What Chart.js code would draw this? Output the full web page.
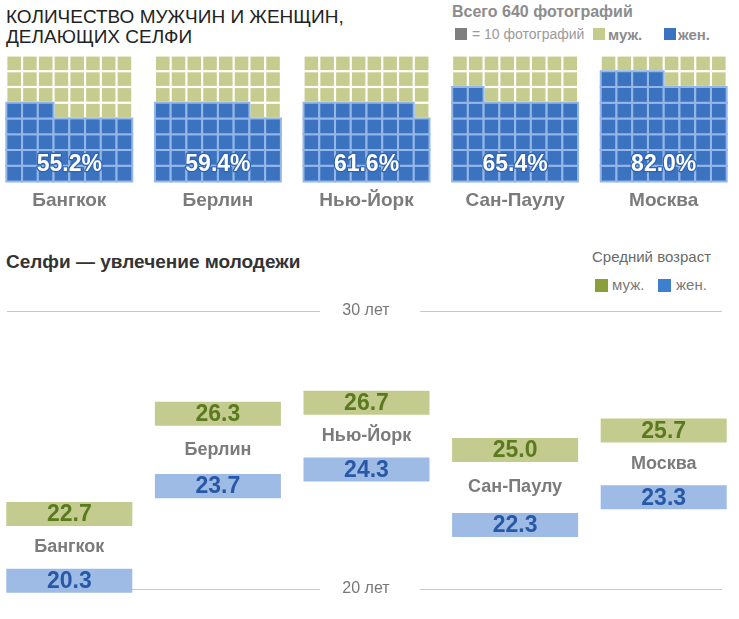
<!DOCTYPE html>
<html lang="ru">
<head>
<meta charset="utf-8">
<title>Селфи: мужчины и женщины</title>
<script src="https://cdn.jsdelivr.net/npm/chart.js"></script>
<style>
  body {
    margin: 0;
    width: 739px;
    height: 619px;
    overflow: hidden;
    position: relative;
    background: #fff;
    font-family: "Liberation Sans", Arial, sans-serif;
  }
  .abs { position: absolute; white-space: nowrap; }
  .sq { position: absolute; width: 12px; height: 12px; }
  #title { left: 6px; top: 7px; font-size: 19px; line-height: 20px; color: #222; }
  #total { left: 452px; top: 3px; font-size: 16px; font-weight: bold; color: #8c8c8c; }
  .leg1 { top: 26px; font-size: 14px; color: #9a9a9a; }
  .leg1 b { color: #8c8c8c; font-size: 15px; }
  #title2 { left: 6px; top: 251px; font-size: 19px; font-weight: bold; color: #333; }
  #avg { left: 592px; top: 248px; font-size: 15px; color: #6a6a6a; }
  .leg2 { top: 276px; font-size: 15px; color: #7a7a7a; }
  canvas { position: absolute; left: -5px; }
  #waffle { top: 50px; }
  #ages { top: 280px; }
</style>
</head>
<body>

<div id="title" class="abs">КОЛИЧЕСТВО МУЖЧИН И ЖЕНЩИН,<br>ДЕЛАЮЩИХ СЕЛФИ</div>
<div id="total" class="abs"></div>
<div class="sq" style="left:455px; top:28px; background:#7f7f7f;"></div>
<div id="perCell" class="abs leg1" style="left:472px;"></div>
<div class="sq" style="left:593px; top:28px; background:#c6cc8e;"></div>
<div class="abs leg1" style="left:608px;"><b>муж.</b></div>
<div class="sq" style="left:664px; top:28px; background:#3b73c1;"></div>
<div class="abs leg1" style="left:678px;"><b>жен.</b></div>

<div id="title2" class="abs">Селфи — увлечение молодежи</div>
<div id="avg" class="abs">Средний возраст</div>
<div class="sq" style="left:595px; top:279px; width:13px; height:13px; background:#8a9e3c;"></div>
<div class="abs leg2" style="left:612px;">муж.</div>
<div class="sq" style="left:658px; top:279px; width:13px; height:13px; background:#3f7fd0;"></div>
<div class="abs leg2" style="left:676px;">жен.</div>

<canvas id="waffle" width="743" height="170"></canvas>
<canvas id="ages" width="743" height="339"></canvas>

<script>
// данные
const cities = ['Бангкок', 'Берлин', 'Нью-Йорк', 'Сан-Паулу', 'Москва'];
const womenShare = [55.2, 59.4, 61.6, 65.4, 82.0];   // % женщин среди селфи
const menAge = [22.7, 26.3, 26.7, 25.0, 25.7];
const womenAge = [20.3, 23.7, 24.3, 22.3, 23.3];
const ageTicks = [20, 30];
const photosTotal = 640;
const photosPerCell = 10;

document.getElementById('total').textContent = `Всего ${photosTotal} фотографий`;
document.getElementById('perCell').textContent = `= ${photosPerCell} фотографий`;

const FONT = '"Liberation Sans", Arial, sans-serif';
const cols = 8;
const cellsPerCity = photosTotal / photosPerCell;
const cellX = 15.75 / 148.6;   // ширина клетки в единицах оси x

// клетки вафли: снизу вверх, слева направо
const womenCells = [];
const menCells = [];
cities.forEach((c, i) => {
  const nWomen = Math.round(womenShare[i] / 100 * cellsPerCity);
  for (let k = 0; k < cellsPerCity; k++) {
    const row = Math.floor(k / cols);
    const col = k % cols;
    const pt = {x: i + (col - 3.5) * cellX, y: row + 0.5};
    if (k < nWomen) womenCells.push(pt); else menCells.push(pt);
  }
});

const waffleLabels = {
  id: 'waffleLabels',
  afterDatasetsDraw(chart) {
    const {ctx, scales: {x, y}} = chart;
    ctx.save();
    ctx.textAlign = 'center';
    ctx.textBaseline = 'middle';
    cities.forEach((c, i) => {
      const px = x.getPixelForValue(i);
      ctx.font = `bold 23px ${FONT}`;
      ctx.lineWidth = 2.5;
      ctx.strokeStyle = '#2f63b0';
      ctx.lineJoin = 'round';
      const txt = womenShare[i].toFixed(1) + '%';
      ctx.strokeText(txt, px, y.getPixelForValue(1.1));
      ctx.fillStyle = '#fff';
      ctx.fillText(txt, px, y.getPixelForValue(1.1));
      ctx.font = `bold 19px ${FONT}`;
      ctx.fillStyle = '#7b7b7b';
      ctx.fillText(c, px, y.getPixelForValue(-1.25));
    });
    ctx.restore();
  }
};

new Chart(document.getElementById('waffle'), {
  type: 'scatter',
  data: {
    datasets: [
      {
        data: womenCells,
        pointStyle: 'rect',
        pointRadius: 11.1,
        backgroundColor: '#3b73c1',
        borderColor: '#94b7e6',
        borderWidth: 2,
        clip: false
      },
      {
        data: menCells,
        pointStyle: 'rect',
        pointRadius: 9.6,
        backgroundColor: '#c6cc8e',
        borderWidth: 0,
        clip: false
      }
    ]
  },
  options: {
    responsive: false,
    animation: false,
    events: [],
    layout: {padding: 0, autoPadding: false},
    plugins: {legend: {display: false}, tooltip: {enabled: false}},
    scales: {
      x: {type: 'linear', display: false, min: -0.5, max: 4.5},
      y: {type: 'linear', display: false, min: -2.444, max: 8.349}
    }
  },
  plugins: [waffleLabels]
});

// средний возраст
const barHalf = 0.432;

const ageLabels = {
  id: 'ageLabels',
  beforeDatasetsDraw(chart) {
    const {ctx, scales: {y}} = chart;
    ctx.save();
    ctx.strokeStyle = '#c9c9c9';
    ctx.lineWidth = 1;
    ctx.font = `16px ${FONT}`;
    ctx.fillStyle = '#777';
    ctx.textAlign = 'center';
    ctx.textBaseline = 'middle';
    ageTicks.forEach((t) => {
      const py = Math.round(y.getPixelForValue(t)) + 0.5;
      ctx.beginPath();
      ctx.moveTo(12, py); ctx.lineTo(325, py);
      ctx.moveTo(425, py); ctx.lineTo(727, py);
      ctx.stroke();
      ctx.fillText(`${t} лет`, 371, py - 1);
    });
    ctx.restore();
  },
  afterDatasetsDraw(chart) {
    const {ctx, scales: {x, y}} = chart;
    ctx.save();
    ctx.textAlign = 'center';
    ctx.textBaseline = 'middle';
    cities.forEach((c, i) => {
      const px = x.getPixelForValue(i);
      ctx.font = `bold 23px ${FONT}`;
      ctx.fillStyle = '#5b7a1f';
      ctx.fillText(menAge[i].toFixed(1), px, y.getPixelForValue(menAge[i]) + 1);
      ctx.fillStyle = '#2859a8';
      ctx.fillText(womenAge[i].toFixed(1), px, y.getPixelForValue(womenAge[i]) + 1);
      ctx.font = `bold 18px ${FONT}`;
      ctx.fillStyle = '#7b7b7b';
      ctx.fillText(c, px, y.getPixelForValue((menAge[i] + womenAge[i]) / 2));
    });
    ctx.restore();
  }
};

new Chart(document.getElementById('ages'), {
  type: 'bar',
  data: {
    labels: cities,
    datasets: [
      {
        label: 'муж.',
        data: menAge.map((v) => [v - barHalf, v + barHalf]),
        backgroundColor: '#c4cb8e'
      },
      {
        label: 'жен.',
        data: womenAge.map((v) => [v - barHalf, v + barHalf]),
        backgroundColor: '#9dbbe4'
      }
    ]
  },
  options: {
    responsive: false,
    animation: false,
    events: [],
    layout: {padding: 0, autoPadding: false},
    grouped: false,
    barPercentage: 0.848,
    categoryPercentage: 1,
    plugins: {legend: {display: false}, tooltip: {enabled: false}},
    scales: {
      x: {display: false},
      y: {display: false, min: 18.92, max: 31.115}
    }
  },
  plugins: [ageLabels]
});
</script>
</body>
</html>
